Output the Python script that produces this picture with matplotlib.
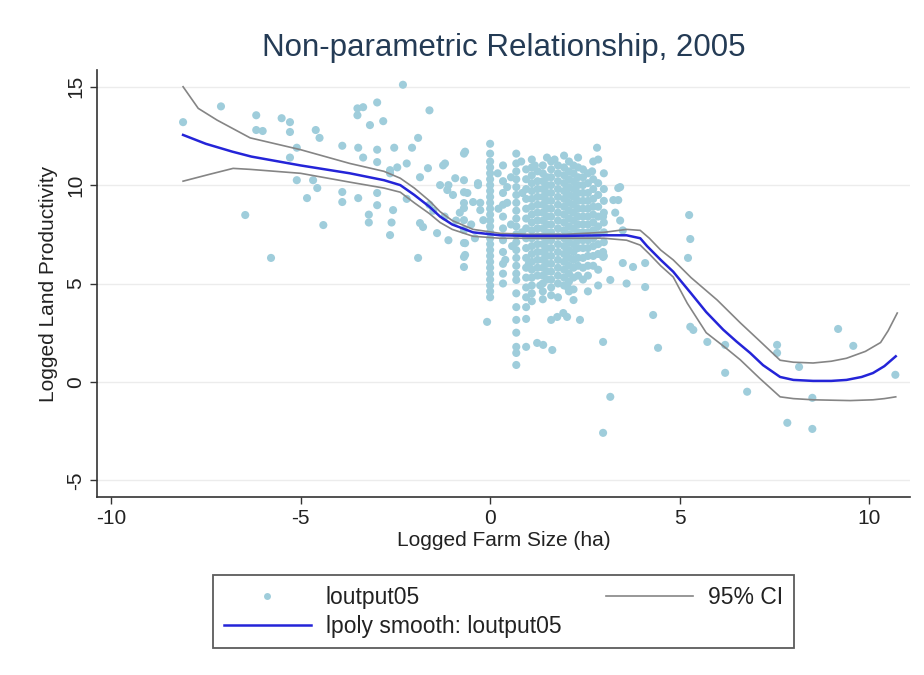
import matplotlib

matplotlib.use("Agg")
import matplotlib.pyplot as plt
from matplotlib.lines import Line2D

plt.rcParams["font.family"] = ["Liberation Sans", "DejaVu Sans"]
plt.rcParams["axes.unicode_minus"] = False

# scattered observations (log farm size, log land productivity)
loose_points = [
    (-8.1, 13.2), (-7.1, 14.0), (-6.17, 13.55), (-6.17, 12.8), (-6.0, 12.75), (-5.5, 13.4),
    (-5.28, 13.2), (-5.28, 12.7), (-4.6, 12.8), (-4.5, 12.4), (-3.9, 12.0), (-5.1, 11.9),
    (-5.28, 11.4), (-5.1, 10.25), (-4.67, 10.25), (-4.56, 9.85), (-4.83, 9.34), (-3.9, 9.65),
    (-3.9, 9.14), (-6.46, 8.48), (-4.4, 7.97), (-5.78, 6.3), (-2.3, 15.1), (-3.5, 13.9),
    (-3.35, 13.96), (-2.98, 14.2), (-3.5, 13.55), (-2.82, 13.25), (-3.17, 13.05), (-3.48, 11.9),
    (-2.98, 11.8), (-2.53, 11.9), (-3.35, 11.4), (-2.98, 11.17), (-2.64, 10.76), (-2.45, 10.9),
    (-3.48, 9.34), (-2.98, 9.6), (-2.98, 8.98), (-3.2, 8.5), (-3.2, 8.1), (-2.6, 8.1),
    (-2.64, 7.46), (-1.6, 13.8), (-1.9, 12.4), (-2.06, 11.9), (-0.66, 11.7), (-1.24, 11.0),
    (-2.2, 11.1), (-2.64, 10.6), (-1.64, 10.86), (-1.85, 10.4), (-0.92, 10.35), (-1.32, 10.0),
    (-1.13, 9.75), (-0.98, 9.5), (-0.6, 9.6), (-0.32, 10.0), (-2.56, 8.73), (-1.85, 8.07),
    (-1.77, 7.87), (-1.4, 7.56), (-1.1, 7.2), (-1.9, 6.3), (-0.66, 7.05), (-0.66, 6.45),
    (-2.2, 9.3), (-1.6, 9.0), (-1.5, 8.7), (-1.2, 8.4), (-0.9, 8.2), (-0.8, 8.6),
    (-0.5, 8.0), (-0.4, 7.3), (-1.19, 11.1), (-0.45, 9.14), (-0.26, 8.73), (-0.18, 8.22),
    (-0.32, 10.1), (-0.26, 9.1), (-1.1, 10.0), (-0.08, 3.05), (0.45, 9.9), (0.45, 9.1),
    (0.4, 6.2), (2.06, 4.77), (2.2, 4.16), (1.77, 3.3), (1.93, 3.5), (2.03, 3.3),
    (2.37, 3.15), (1.24, 1.98), (1.4, 1.88), (1.64, 1.62), (2.98, 2.03), (3.17, -0.76),
    (2.98, -2.59), (2.82, 11.9), (2.72, 11.2), (2.69, 10.7), (3.38, 9.85), (3.38, 9.24),
    (3.43, 9.9), (3.25, 9.24), (3.3, 8.6), (3.43, 8.2), (3.5, 7.7), (2.98, 8.4),
    (2.98, 6.6), (2.98, 6.35), (3.5, 6.04), (3.77, 5.84), (4.09, 6.04), (3.17, 5.18),
    (3.6, 5.0), (4.09, 4.82), (4.3, 3.4), (4.43, 1.73), (5.25, 8.48), (5.28, 7.26),
    (5.22, 6.3), (5.28, 2.8), (5.36, 2.64), (5.73, 2.03), (6.2, 1.88), (6.2, 0.46),
    (6.78, -0.5), (7.57, 1.88), (7.57, 1.47), (8.15, 0.76), (8.5, -0.81), (7.84, -2.08),
    (8.5, -2.39), (9.18, 2.69), (9.58, 1.83), (10.69, 0.36),
    (0.2, 10.6), (0.22, 8.8), (0.55, 10.4), (0.55, 8.0), (0.58, 6.9), (0.82, 11.2),
    (0.85, 9.6), (0.84, 7.6), (1.18, 11.0), (1.02, 6.0), (1.32, 4.9), (1.7, 11.3),
]

# plots with a whole number of hectares stack up in vertical columns
streak_sizes = [-0.69, 0.0, 0.34, 0.69, 0.95, 1.1, 1.25, 1.39, 1.5, 1.61, 1.79, 1.95,
                2.08, 2.2, 2.32, 2.45, 2.58, 2.72, 2.85, 3.0]
streak_values = [
    [11.6, 10.25, 9.64, 9.09, 8.83, 8.22, 7.72, 7.06, 6.35, 5.84],
    [12.1, 11.6, 11.2, 10.9, 10.6, 10.3, 10.0, 9.7, 9.4, 9.1, 8.8, 8.5, 8.2, 7.9,
     7.6, 7.3, 7.0, 6.7, 6.4, 6.1, 5.8, 5.5, 5.2, 4.9, 4.6, 4.3],
    [11.0, 10.2, 9.6, 9.0, 8.4, 7.8, 7.2, 6.6, 6.0, 5.5, 5.0],
    [11.6, 11.1, 10.7, 10.3, 9.9, 9.5, 9.1, 8.7, 8.3, 7.9, 7.5, 7.1, 6.7, 6.3, 5.9,
     5.5, 5.18, 4.5, 3.8, 3.15, 2.5, 1.78, 1.47, 0.86],
    [10.8, 10.3, 9.8, 9.3, 8.8, 8.3, 7.8, 7.3, 6.8, 6.3, 5.8, 5.3, 4.8, 4.3, 3.8,
     3.2, 1.78],
    [11.3, 10.9, 10.5, 10.1, 9.7, 9.3, 8.9, 8.5, 8.1, 7.7, 7.3, 6.9, 6.5, 6.1, 5.7,
     5.3, 4.9, 4.5, 4.1],
    [10.7, 10.2, 9.8, 9.4, 9.0, 8.6, 8.2, 7.8, 7.4, 7.0, 6.6, 6.2, 5.8, 5.4],
    [11.0, 10.6, 10.2, 9.8, 9.4, 9.0, 8.6, 8.2, 7.8, 7.4, 7.0, 6.6, 6.2, 5.8, 5.4,
     5.0, 4.6, 4.2],
    [11.4, 10.4, 10.0, 9.6, 9.2, 8.8, 8.4, 8.0, 7.6, 7.2, 6.8, 6.4, 6.0, 5.6, 5.2],
    [11.2, 10.8, 10.4, 10.0, 9.6, 9.2, 8.8, 8.4, 8.0, 7.6, 7.2, 6.8, 6.4, 6.0, 5.6,
     5.2, 4.8, 4.4, 3.15],
    [11.0, 10.6, 10.2, 9.8, 9.4, 9.0, 8.6, 8.2, 7.8, 7.4, 7.0, 6.6, 6.2, 5.8, 5.4,
     5.0, 4.3],
    [11.5, 10.9, 10.5, 10.1, 9.7, 9.3, 8.9, 8.5, 8.1, 7.7, 7.3, 6.9, 6.5, 6.1, 5.7,
     5.3, 4.9],
    [11.2, 10.7, 10.3, 9.9, 9.5, 9.1, 8.7, 8.3, 7.9, 7.5, 7.1, 6.7, 6.3, 5.9, 5.5,
     5.1, 4.6],
    [11.0, 10.6, 10.2, 9.8, 9.4, 9.0, 8.6, 8.2, 7.8, 7.4, 7.0, 6.6, 6.2, 5.8, 5.3, 4.7],
    [11.4, 10.9, 10.4, 10.0, 9.6, 9.2, 8.8, 8.4, 8.0, 7.6, 7.2, 6.8, 6.3, 5.9, 5.4],
    [10.8, 10.4, 10.0, 9.6, 9.2, 8.8, 8.4, 8.0, 7.6, 7.2, 6.8, 6.3, 5.8, 5.2],
    [10.6, 10.1, 9.6, 9.2, 8.8, 8.4, 8.0, 7.6, 7.2, 6.8, 6.4, 5.9, 5.4, 4.6],
    [10.3, 9.8, 9.3, 8.9, 8.5, 8.1, 7.7, 7.3, 6.9, 6.4, 5.9],
    [11.3, 10.1, 9.5, 8.9, 8.4, 7.9, 7.5, 7.0, 6.5, 5.7, 4.9],
    [10.6, 9.8, 9.2, 8.6, 8.1, 7.6, 7.1, 6.4],
]

# local polynomial smooth and its 95% band
smooth_x = [-8.1, -7.5, -6.8, -6.3, -5.0, -3.7, -2.8, -2.37, -2.0, -1.6, -1.32, -1.0,
            -0.45, 0.26, 1.0, 2.0, 3.0, 3.6, 3.96, 4.14, 4.5, 4.83, 5.0, 5.3, 5.7,
            6.15, 6.5, 6.86, 7.2, 7.65, 8.0, 8.52, 9.0, 9.4, 9.8, 10.1, 10.4, 10.7]
smooth_y = [12.55, 12.1, 11.7, 11.45, 11.0, 10.6, 10.25, 10.0, 9.5, 8.9, 8.4, 8.0,
            7.6, 7.45, 7.42, 7.42, 7.45, 7.45, 7.3, 6.9, 6.2, 5.6, 5.2, 4.5, 3.55,
            2.65, 2.05, 1.47, 0.85, 0.25, 0.1, 0.05, 0.05, 0.1, 0.25, 0.45, 0.8, 1.3]
upper_x = [-8.1, -7.7, -7.2, -6.33, -5.0, -3.7, -2.8, -2.37, -2.0, -1.6, -1.32, -1.0,
           -0.45, 0.26, 1.0, 2.0, 3.0, 3.6, 3.96, 4.2, 4.5, 4.83, 5.3, 5.99, 6.6, 7.1,
           7.65, 8.0, 8.52, 9.0, 9.4, 9.9, 10.3, 10.5, 10.74]
upper_y = [15.0, 13.9, 13.3, 12.4, 11.8, 11.1, 10.7, 10.35, 9.85, 9.2, 8.65, 8.2,
           7.75, 7.55, 7.5, 7.5, 7.6, 7.75, 7.7, 7.3, 6.7, 6.2, 5.3, 4.16, 3.0, 2.1,
           1.1, 1.0, 0.96, 1.05, 1.2, 1.55, 2.0, 2.6, 3.5]
lower_x = [-8.1, -7.4, -6.78, -6.33, -5.0, -3.7, -2.8, -2.37, -2.0, -1.6, -1.32, -1.0,
           -0.45, 0.26, 1.0, 2.0, 3.0, 3.6, 3.96, 4.2, 4.5, 4.83, 5.2, 5.7, 6.2, 6.6,
           7.1, 7.65, 8.0, 8.52, 9.5, 10.1, 10.4, 10.7]
lower_y = [10.2, 10.55, 10.85, 10.8, 10.6, 10.15, 9.85, 9.64, 9.1, 8.55, 8.1, 7.75,
           7.4, 7.3, 7.3, 7.3, 7.3, 7.2, 6.95, 6.5, 5.9, 5.33, 4.0, 2.5, 1.75, 1.12,
           0.2, -0.76, -0.85, -0.91, -0.95, -0.91, -0.85, -0.76]

x_ticks = [-10, -5, 0, 5, 10]
y_ticks = [-5, 0, 5, 10, 15]

SCATTER_COLOR = "#9fcddb"
SMOOTH_COLOR = "#2424d8"
CI_COLOR = "#858585"
TITLE_COLOR = "#243b55"


def main() -> None:
    sizes = [p[0] for p in loose_points]
    values = [p[1] for p in loose_points]
    for x, ys in zip(streak_sizes, streak_values):
        sizes.extend([x] * len(ys))
        values.extend(ys)

    figure = plt.figure(figsize=(9.24, 6.75), dpi=100)
    axis = figure.add_axes([0.105, 0.2637, 0.88, 0.6326])

    axis.scatter(sizes, values, s=34, color=SCATTER_COLOR, edgecolors="none", zorder=2)
    axis.plot(upper_x, upper_y, color=CI_COLOR, lw=1.2, zorder=3)
    axis.plot(lower_x, lower_y, color=CI_COLOR, lw=1.2, zorder=3)
    axis.plot(smooth_x, smooth_y, color=SMOOTH_COLOR, lw=1.8, zorder=4)

    axis.set_xlim(-10.37, 11.08)
    axis.set_ylim(-5.85, 15.85)
    axis.set_xticks(x_ticks)
    axis.set_yticks(y_ticks)
    axis.tick_params(labelsize=15, length=5, width=1, color="#333333", labelcolor="#222222")
    for label in axis.get_yticklabels():
        label.set_rotation(90)
        label.set_va("center")
    axis.yaxis.grid(True, color="#ececec", lw=1)
    axis.set_axisbelow(True)
    for side in ("top", "right"):
        axis.spines[side].set_visible(False)
    for side in ("left", "bottom"):
        axis.spines[side].set_color("#333333")
        axis.spines[side].set_linewidth(1.2)

    axis.set_xlabel("Logged Farm Size (ha)", fontsize=15, labelpad=2, color="#222222")
    axis.set_ylabel("Logged Land Productivity", fontsize=15, labelpad=6, color="#222222")
    axis.set_title("Non-parametric Relationship, 2005", fontsize=22.5, color=TITLE_COLOR, pad=10)

    handles = [
        Line2D([], [], ls="none", marker="o", markersize=5, color=SCATTER_COLOR, markeredgewidth=0),
        Line2D([], [], color=SMOOTH_COLOR, lw=1.8),
        Line2D([], [], color=CI_COLOR, lw=1.2),
    ]
    labels = ["loutput05", "lpoly smooth: loutput05", "95% CI"]
    legend = figure.legend(
        handles, labels, loc="center", bbox_to_anchor=(0.545, 0.0935), ncol=2,
        fontsize=16.5, frameon=True, fancybox=False, edgecolor="#333333",
        handlelength=3.8, handletextpad=0.65, columnspacing=1.96,
        labelspacing=0.28, borderpad=0.45, numpoints=1,
    )
    legend.get_frame().set_linewidth(1.3)
    for text in legend.get_texts():
        text.set_color("#222222")

    figure.savefig("out.png", dpi=100, facecolor="white")
    plt.close(figure)


if __name__ == "__main__":
    main()
